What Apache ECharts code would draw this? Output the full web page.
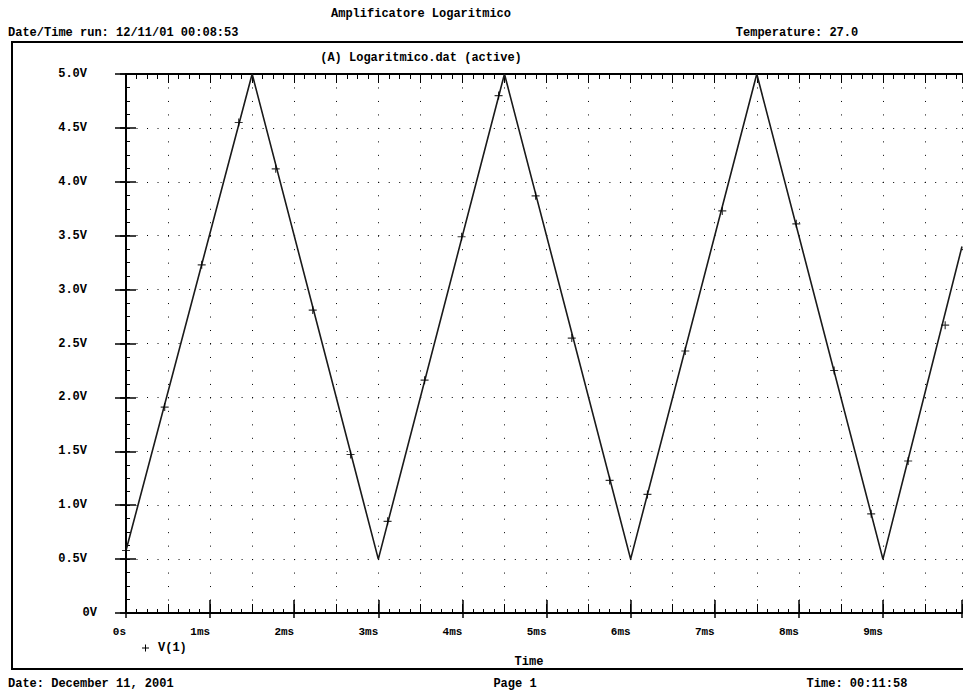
<!DOCTYPE html>
<html>
<head>
<meta charset="utf-8">
<title>Amplificatore Logaritmico</title>
<script src="https://cdn.jsdelivr.net/npm/echarts@6/dist/echarts.min.js"></script>
<style>
html,body{margin:0;padding:0;background:#fff}
#chart{width:963px;height:694px}
</style>
</head>
<body>
<div id="chart"></div>
<script>
// corners of the V(1) trace: time in ms, volts
var traceTime = [0, 1.5, 3, 4.5, 6, 7.5, 9, 9.94]
var traceVolt = [0.58, 5.0, 0.5, 5.0, 0.5, 5.0, 0.5, 3.4]
// the "+" markers sitting on the trace
var markTime = [0, 0.46, 0.90, 1.34, 1.78, 2.22, 2.67, 3.11, 3.55, 3.99, 4.43, 4.87, 5.30, 5.75, 6.20, 6.65, 7.09, 7.97, 8.42, 8.86, 9.30, 9.74]
var markVolt = [0.58, 1.91, 3.23, 4.55, 4.12, 2.81, 1.47, 0.85, 2.16, 3.49, 4.80, 3.87, 2.55, 1.23, 1.10, 2.43, 3.73, 3.61, 2.25, 0.92, 1.41, 2.67]
var xTicks = ["0s", "1ms", "2ms", "3ms", "4ms", "5ms", "6ms", "7ms", "8ms", "9ms"]
var yTicks = ["0V", "0.5V", "1.0V", "1.5V", "2.0V", "2.5V", "3.0V", "3.5V", "4.0V", "4.5V", "5.0V"]

var font = "Liberation Mono"
var ink = "#000"
var plus = "path://M3,0h1v3h3v1h-3v3h-1v-3h-3v-1h3z"
var xMax = 9.94

var myChart = echarts.init(document.getElementById("chart"), null, {renderer: "svg"})

function xAx(o) {
  return Object.assign({
    type: "value", min: 0, max: xMax, position: "bottom",
    axisLine: {show: false, lineStyle: {color: ink, width: 2}},
    axisTick: {show: true, inside: true, length: 4, lineStyle: {color: ink, width: 1}},
    axisLabel: {show: false},
    splitLine: {show: false}
  }, o)
}
function yAx(o) {
  return Object.assign({
    type: "value", min: 0, max: 5, position: "left",
    axisLine: {show: false, lineStyle: {color: ink, width: 2}},
    axisTick: {show: true, inside: true, length: 4, lineStyle: {color: ink, width: 1}},
    axisLabel: {show: false},
    splitLine: {show: false}
  }, o)
}

var txt = function (text, x, y, align) {
  return {type: "text", x: x, y: y, style: {text: text, fill: ink, font: "bold 12px '" + font + "'", align: align || "left", verticalAlign: "middle"}}
}

var option = {
  backgroundColor: "#fff",
  animation: false,
  grid: {left: 126, right: 1, top: 74, bottom: 81, outerBoundsMode: "none"},
  legend: {
    left: 137, top: 637, itemWidth: 7, itemHeight: 7, selectedMode: false,
    data: [{name: "V(1)", icon: plus}],
    textStyle: {fontFamily: font, fontWeight: "bold", fontSize: 12, color: ink, padding: [0, 0, 0, 4]}
  },
  xAxis: [
    xAx({interval: 1, axisLine: {show: true, lineStyle: {color: ink, width: 2}},
      axisTick: {show: true, inside: true, length: 13, lineStyle: {color: ink, width: 1.5}},
      axisLabel: {show: true, align: "right", margin: 13, fontFamily: font, fontWeight: "bold", fontSize: 11, color: ink,
        formatter: function (v) { var i = Math.round(v); return Math.abs(v - i) < 1e-6 ? (xTicks[i] || "") : "" }}}),
    xAx({interval: 0.5, axisTick: {show: true, inside: true, length: 9, lineStyle: {color: ink, width: 1}},
      splitLine: {show: true, lineStyle: {color: ink, width: 1, type: [1, 12.475]}}}),
    xAx({interval: 0.125}),
    xAx({interval: 1, axisTick: {show: true, inside: false, length: 5, lineStyle: {color: ink, width: 1.5}}}),
    xAx({position: "top", interval: 0.125, axisLine: {show: true, lineStyle: {color: ink, width: 2}},
      axisTick: {show: true, inside: true, length: 5, lineStyle: {color: ink, width: 1}}}),
    xAx({position: "top", interval: 0.5, axisTick: {show: true, inside: true, length: 9, lineStyle: {color: ink, width: 1}}})
  ],
  yAxis: [
    yAx({interval: 0.5, axisLine: {show: true, lineStyle: {color: ink, width: 2}},
      axisTick: {show: true, inside: false, length: 11, lineStyle: {color: ink, width: 1.5}},
      splitLine: {show: true, lineStyle: {color: ink, width: 1, type: [1, 9.509]}},
      axisLabel: {show: true, margin: 39, fontFamily: font, fontWeight: "bold", fontSize: 12, color: ink,
        formatter: function (v) { var i = Math.round(v * 2); return i > 0 ? (yTicks[i] || "") : "" }}}),
    yAx({interval: 0.5, axisTick: {show: true, inside: true, length: 10, lineStyle: {color: ink, width: 1.5}},
      axisLabel: {show: true, margin: 29, fontFamily: font, fontWeight: "bold", fontSize: 12, color: ink,
        formatter: function (v) { return v === 0 ? yTicks[0] : "" }}}),
    yAx({interval: 0.125}),
    yAx({position: "right", interval: 0.5, axisLine: {show: true, lineStyle: {color: ink, width: 2}},
      axisTick: {show: true, inside: true, length: 6, lineStyle: {color: ink, width: 1.5}}})
  ],
  series: [
    {
      name: "V(1)", type: "line", xAxisIndex: 0, yAxisIndex: 0,
      data: traceTime.map(function (t, i) { return [t, traceVolt[i]] }),
      showSymbol: false, symbol: "none", color: ink,
      lineStyle: {color: "#1a1a1a", width: 1.6}, z: 3
    },
    {
      name: "V(1)", type: "scatter", xAxisIndex: 0, yAxisIndex: 0,
      data: markTime.map(function (t, i) { return [t, markVolt[i]] }),
      symbol: plus, symbolSize: 8, itemStyle: {color: ink}, z: 4
    }
  ],
  graphic: [
    {type: "rect", shape: {x: 12, y: 42, width: 960, height: 627}, style: {fill: null, stroke: ink, lineWidth: 2}},
    txt("Amplificatore Logaritmico", 421, 14, "center"),
    txt("Date/Time run: 12/11/01 00:08:53", 8, 33),
    txt("Temperature: 27.0", 797, 33, "center"),
    txt("(A) Logaritmico.dat (active)", 421, 58, "center"),
    txt("Time", 529, 662, "center"),
    txt("Date: December 11, 2001", 8, 684),
    txt("Page 1", 515, 684, "center"),
    txt("Time: 00:11:58", 857, 684, "center")
  ]
}
myChart.setOption(option)
</script>
</body>
</html>
